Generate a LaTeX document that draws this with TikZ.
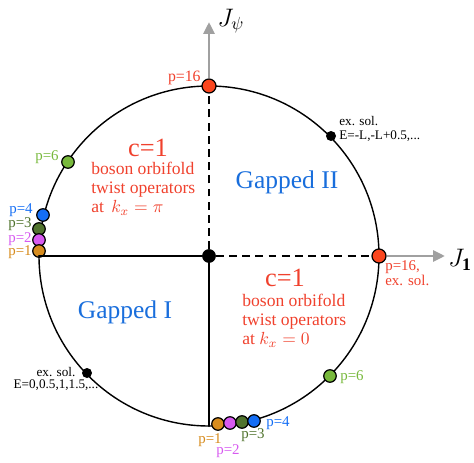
\documentclass[tikz,border=0pt]{standalone}
\usepackage{fontspec}
\setmainfont{Liberation Serif}
\usepackage{tikz}
\usetikzlibrary{arrows.meta}
\definecolor{cred}{RGB}{240,65,45}
\definecolor{cdotred}{RGB}{250,70,30}
\definecolor{cblue}{RGB}{25,110,220}
\definecolor{cdotblue}{RGB}{20,110,245}
\definecolor{cgreen}{RGB}{80,115,45}
\definecolor{cmag}{RGB}{215,90,240}
\definecolor{corange}{RGB}{215,140,30}
\definecolor{clgreen}{RGB}{120,185,60}
\definecolor{caxis}{RGB}{160,160,160}

\begin{document}
\begin{tikzpicture}[x=0.02cm,y=-0.02cm,>={Triangle[length=2.4mm,width=2.2mm]},line cap=round,
  pdot/.style={circle,draw=black,line width=0.7pt,inner sep=0pt,minimum size=0.25cm},
  rdot/.style={pdot,fill=cdotred,minimum size=0.28cm},
  xdot/.style={circle,fill=black,inner sep=0pt,minimum size=0.2cm},
  plbl/.style={font=\fontsize{8.5}{9}\selectfont,inner sep=0pt},
  xlbl/.style={font=\fontsize{7.5}{8}\selectfont,inner sep=0pt},
  cone/.style={text=cred,font=\fontsize{15}{16}\selectfont,inner sep=0pt},
  desc/.style={text=cred,font=\fontsize{10}{10.8}\selectfont,align=left,inner sep=0pt},
  gap/.style={text=cblue,font=\fontsize{14.5}{16}\selectfont,inner sep=0pt}]
\useasboundingbox (0,0) rectangle (474,463);
\coordinate (O) at (209,256);
\draw[line width=0.8pt] (O) circle[radius=170];

% dots on the circle
\node[pdot,fill=black,minimum size=0.25cm] (cen) at (O) {};
\node[rdot] (p16t) at (209,86) {};
\node[rdot] (p16r) at (379,256) {};
\coordinate (lft) at (39,256);
\coordinate (bot) at (209,426);
\node[pdot,fill=clgreen] (p6a) at (68,162) {};
\node[pdot,fill=clgreen] (p6b) at (330,376) {};
\node[xdot] (exa) at (331,136) {};
\node[xdot] (exb) at (87,373) {};

\node[pdot,fill=cdotblue] (l4) at (43,215) {};
\node[pdot,fill=cgreen] (l3) at (39,229) {};
\node[pdot,fill=cmag] (l2) at (39,240) {};
\node[pdot,fill=corange] (l1) at (39,251) {};
\node[pdot,fill=corange] (b1) at (218,424) {};
\node[pdot,fill=cmag] (b2) at (230,423) {};
\node[pdot,fill=cgreen] (b3) at (242,422) {};
\node[pdot,fill=cdotblue] (b4) at (254,421) {};

% phase boundaries
\draw[line width=1.4pt,dash pattern=on 4.5pt off 3pt,line cap=butt] (cen) -- (p16t);
\draw[line width=1.4pt,dash pattern=on 4.5pt off 3pt,line cap=butt] (cen) -- (p16r);
\draw[line width=1.4pt] (cen) -- (lft);
\draw[line width=1.4pt] (cen) -- (bot);

% axes
\coordinate (jpsi) at (209,22);
\coordinate (jone) at (445,256);
\draw[->,caxis,line width=1.7pt,line cap=butt] (p16t) -- (jpsi);
\draw[->,caxis,line width=1.7pt,line cap=butt] (p16r) -- (jone);
\node[font=\Large] (lpsi) at (231,21) {$J_\psi$};
\node[font=\Large] (lone) at (460,260) {$J_{\mathbf{1}}$};

% labels
\node[plbl,text=cred,anchor=east,font=\fontsize{9}{9}\selectfont] at (201,78) {p=16};
\node[plbl,text=cred,anchor=west,align=left,font=\fontsize{8.5}{7.5}\selectfont] at (385,273) {p=16,\\ex. sol.};
\node[plbl,text=clgreen,anchor=east] at (59,157) {p=6};
\node[plbl,text=clgreen,anchor=west] at (340,377) {p=6};
\node[plbl,text=cdotblue,anchor=east] at (33,210) {p=4};
\node[plbl,text=cgreen,anchor=east] at (32,224) {p=3};
\node[plbl,text=cmag,anchor=east] at (32,239) {p=2};
\node[plbl,text=corange,anchor=east] at (32,252) {p=1};
\node[plbl,text=corange] at (210,440) {p=1};
\node[plbl,text=cmag] at (228,451) {p=2};
\node[plbl,text=cgreen] at (253,435) {p=3};
\node[plbl,text=cdotblue] at (278,423) {p=4};
\node[xlbl,anchor=west,align=left,font=\fontsize{7.5}{8}\selectfont] at (339,129) {ex. sol.\\E=-L,-L+0.5,...};
\node[xlbl,align=center,font=\fontsize{7.5}{7}\selectfont] at (56,379) {ex. sol.\\E=0,0.5,1,1.5,...};

\node[cone] (c1a) at (148,148) {c=1};
\node[desc,anchor=north west] at (91,162) {boson orbifold\\twist operators\\at \,$k_x=\pi$};
\node[cone] (c1b) at (285,278) {c=1};
\node[desc,anchor=north west] at (242,294) {boson orbifold\\twist operators\\at $k_x=0$};
\node[gap] (g2) at (287,182) {Gapped II};
\node[gap] (g1) at (125,312) {Gapped I};
\end{tikzpicture}
\end{document}
